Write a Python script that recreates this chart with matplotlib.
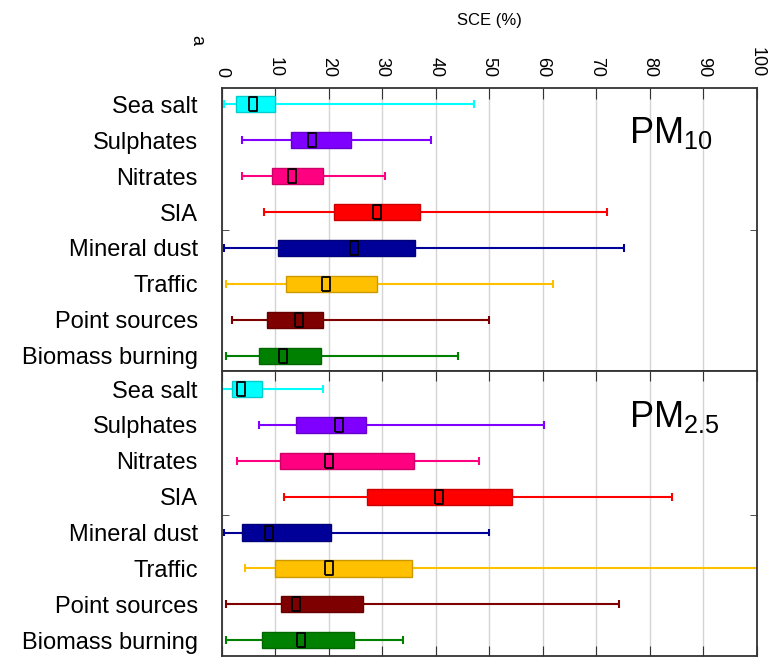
import numpy as np
import matplotlib.pyplot as plt
from matplotlib.colors import to_rgb

plt.rcParams['font.family'] = ['Liberation Sans', 'DejaVu Sans']
plt.rcParams['mathtext.fontset'] = 'custom'
plt.rcParams['mathtext.rm'] = 'Liberation Sans'

# source categories (same order in both panels)
sources = ['Sea salt', 'Sulphates', 'Nitrates', 'SIA', 'Mineral dust',
           'Traffic', 'Point sources', 'Biomass burning']
colors = ['#00FFFF', '#8000FF', '#FF0080', '#FF0000', '#000099',
          '#FFC000', '#7F0000', '#008000']

# PM10 : whisker low, q1, median, q3, whisker high  (SCE %)
pm10_lo  = [0.5, 3.9, 3.9, 8.0, 0.5, 0.9, 1.9, 0.9]
pm10_q1  = [2.8, 13.0, 9.4, 21.0, 10.6, 12.1, 8.5, 7.0]
pm10_med = [5.9, 16.9, 13.2, 29.0, 24.8, 19.5, 14.4, 11.5]
pm10_q3  = [10.0, 24.1, 19.0, 37.1, 36.2, 29.1, 19.0, 18.5]
pm10_hi  = [47.1, 39.1, 30.6, 72.0, 75.2, 61.9, 50.0, 44.2]

# PM2.5
pm25_lo  = [0.0, 7.0, 2.9, 11.7, 0.5, 4.3, 0.9, 0.9]
pm25_q1  = [1.9, 14.0, 10.9, 27.1, 3.8, 9.9, 11.1, 7.5]
pm25_med = [3.7, 22.0, 20.0, 40.7, 8.9, 20.0, 13.9, 14.9]
pm25_q3  = [7.5, 27.0, 35.9, 54.2, 20.4, 35.5, 26.5, 24.8]
pm25_hi  = [19.0, 60.2, 48.1, 84.2, 50.0, 105.0, 74.2, 33.9]

xticks = np.arange(0, 101, 10)

fig = plt.figure(figsize=(7.75, 6.58), dpi=100)
L, R = 221.5 / 775, 757 / 775
ax1 = fig.add_axes([L, 1 - 370.7 / 658, R - L, (370.7 - 88.3) / 658])
ax2 = fig.add_axes([L, 1 - 656 / 658, R - L, (656 - 370.7) / 658])

# tall thin rectangle marker for the median
med_marker = [(-0.29, -0.5), (0.29, -0.5), (0.29, 0.5), (-0.29, 0.5), (-0.29, -0.5)]


def draw_panel(ax, lo, q1, med, q3, hi, ylim, label, ly):
    rows = np.arange(len(sources))
    for i in rows:
        c = colors[i]
        dark = tuple(v * 0.8 for v in to_rgb(c))
        ax.hlines(i, lo[i], hi[i], color=c, lw=1.5, zorder=2)
        ax.vlines([lo[i], hi[i]], i - 0.11, i + 0.11, color=c, lw=1.5, zorder=2)
        ax.barh(i, q3[i] - q1[i], left=q1[i], height=0.45, color=c,
                edgecolor=dark, lw=1, zorder=3)
        ax.plot(med[i], i, marker=med_marker, ms=10, mfc='none', mec='black',
                mew=1.3, zorder=4)
    ax.set_xlim(0, 100)
    ax.set_ylim(*ylim)
    ax.set_xticks(xticks)
    ax.grid(axis='x', color='#d4d4d4', lw=1, zorder=0)
    ax.set_yticks(rows)
    ax.set_yticklabels(sources, fontsize=17)
    ax.tick_params(axis='y', which='major', length=0, pad=17)
    ax.set_yticks([3.5], minor=True)
    ax.tick_params(axis='y', which='minor', direction='in', length=5,
                   left=True, right=True, color='#333333')
    for s in ax.spines.values():
        s.set_color('#333333')
        s.set_linewidth(1.3)
    ax.text(76.1, ly, label, fontsize=26, ha='left', va='baseline')


draw_panel(ax1, pm10_lo, pm10_q1, pm10_med, pm10_q3, pm10_hi,
           (7.42, -0.446), r'PM$_{\rm 10}$', 1.08)
draw_panel(ax2, pm25_lo, pm25_q1, pm25_med, pm25_q3, pm25_hi,
           (7.44, -0.51), r'PM$_{\rm 2.5}$', 1.06)

ax1.xaxis.tick_top()
ax1.tick_params(axis='x', direction='in', length=8, pad=8, color='#333333',
                labelsize=13, top=True, bottom=False)
for t in ax1.get_xticklabels():
    t.set_rotation(-90)
ax2.tick_params(axis='x', direction='in', length=7, color='#333333',
                top=True, bottom=True, labelbottom=False, labeltop=False)

fig.text(489.5 / 775, 1 - 20 / 658, 'SCE (%)', fontsize=12, ha='center', va='center')
fig.text(197 / 775, 1 - 40 / 658, 'a', fontsize=13, rotation=-90, ha='center', va='center')

fig.savefig('out.png', dpi=100)
